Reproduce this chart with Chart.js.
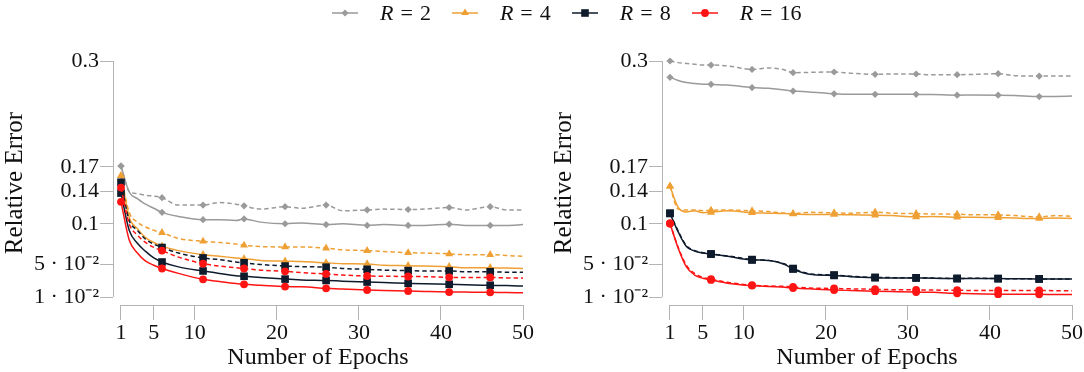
<!DOCTYPE html>
<html>
<head>
<meta charset="utf-8">
<script src="https://cdn.jsdelivr.net/npm/chart.js@4.4.1/dist/chart.umd.min.js"></script>
<style>
  body { margin: 0; background: #fff; }
  #wrap { position: relative; width: 1084px; height: 372px; overflow: hidden; font-family: "Liberation Serif", serif; }
  .panel { position: absolute; top: 0; width: 535px; height: 372px; }
  #legend { position: absolute; left: 332px; top: 0; height: 26px; display: flex; align-items: center; font-size: 22px; color: #111; white-space: nowrap; }
  #legend svg { display: block; }
  #legend .txt { margin-left: 22px; margin-right: 21px; }
  #legend .eq { margin: 0 7px; }
</style>
</head>
<body>
<div id="wrap">
  <div class="panel" style="left:0"><canvas id="leftChart"></canvas></div>
  <div class="panel" style="left:549px"><canvas id="rightChart"></canvas></div>
  <div id="legend"></div>
</div>
<script>
// epochs where values were read; markers sit on every 5th epoch
var epochs = [1, 2, 3, 4, 5, 6, 8, 11, 13, 15, 16, 18, 21, 23, 26, 28, 31, 33, 36, 38, 41, 43, 46, 48, 50];
var markEpochs = [1, 6, 11, 16, 21, 26, 31, 36, 41, 46];

var rValues = [2, 4, 8, 16];
var colors = ['#9a9a9a', '#efa035', '#0e1b2d', '#ff1414'];
var markers = ['rectRot', 'triangle', 'rect', 'circle'];
var markerSizes = [3.6, 4.6, 5.4, 3.9];

var yTickValues = [0.01, 0.05, 0.1, 0.14, 0.17, 0.3];
var yTickLabels = ['1 \u00b7 10\u207b\u00b2', '5 \u00b7 10\u207b\u00b2', '0.1', '0.14', '0.17', '0.3'];
var xTickValues = [1, 5, 10, 20, 30, 40, 50];

// ---------------------------------------------------------------- left panel
var leftR2 = [0.171, 0.139, 0.131, 0.124, 0.119, 0.114, 0.109, 0.105, 0.105, 0.104, 0.106, 0.102, 0.100, 0.101, 0.099, 0.100, 0.098, 0.099, 0.098, 0.098, 0.0995, 0.098, 0.098, 0.098, 0.099];
var leftR2Dash = [0.171, 0.140, 0.137, 0.135, 0.134, 0.132, 0.123, 0.123, 0.126, 0.124, 0.122, 0.118, 0.121, 0.119, 0.123, 0.116, 0.117, 0.118, 0.1175, 0.118, 0.120, 0.117, 0.121, 0.117, 0.117];
var leftR4 = [0.159, 0.108, 0.094, 0.083, 0.077, 0.0725, 0.067, 0.062, 0.060, 0.058, 0.057, 0.055, 0.054, 0.0535, 0.052, 0.051, 0.0506, 0.049, 0.0485, 0.048, 0.0473, 0.046, 0.046, 0.0455, 0.045];
var leftR4Dash = [0.159, 0.114, 0.102, 0.096, 0.092, 0.089, 0.082, 0.0785, 0.077, 0.075, 0.0736, 0.072, 0.0715, 0.0715, 0.070, 0.068, 0.067, 0.066, 0.0644, 0.064, 0.063, 0.062, 0.062, 0.061, 0.060];
var leftR8 = [0.1377, 0.092, 0.076, 0.066, 0.058, 0.053, 0.047, 0.042, 0.039, 0.036, 0.0355, 0.034, 0.032, 0.031, 0.0303, 0.0295, 0.0284, 0.0278, 0.0268, 0.0262, 0.0256, 0.025, 0.0244, 0.024, 0.0235];
var leftR8Dash = [0.151, 0.104, 0.092, 0.081, 0.075, 0.0708, 0.064, 0.058, 0.056, 0.053, 0.052, 0.050, 0.048, 0.0473, 0.0466, 0.045, 0.044, 0.043, 0.0424, 0.042, 0.042, 0.041, 0.041, 0.0405, 0.0403];
var leftR16 = [0.127, 0.080, 0.064, 0.054, 0.049, 0.045, 0.039, 0.0317, 0.029, 0.0265, 0.0256, 0.0245, 0.0228, 0.0225, 0.0207, 0.0198, 0.0186, 0.018, 0.0174, 0.0168, 0.0161, 0.016, 0.0158, 0.0155, 0.0153];
var leftR16Dash = [0.1445, 0.100, 0.086, 0.077, 0.071, 0.067, 0.059, 0.051, 0.048, 0.046, 0.045, 0.043, 0.0416, 0.040, 0.0383, 0.037, 0.0358, 0.0355, 0.0352, 0.035, 0.0342, 0.034, 0.034, 0.0335, 0.0333];

// ---------------------------------------------------------------- right panel
var rightR2 = [0.280, 0.276, 0.2735, 0.2725, 0.2715, 0.2713, 0.2705, 0.2673, 0.2665, 0.2645, 0.2631, 0.262, 0.2597, 0.259, 0.259, 0.2592, 0.259, 0.2588, 0.258, 0.2583, 0.258, 0.2575, 0.2563, 0.2565, 0.257];
var rightR2Dash = [0.300, 0.298, 0.297, 0.296, 0.295, 0.295, 0.294, 0.2897, 0.2915, 0.289, 0.2856, 0.286, 0.2865, 0.285, 0.2836, 0.284, 0.284, 0.283, 0.2832, 0.2835, 0.2844, 0.282, 0.2815, 0.2815, 0.2815];
var rightR4 = [0.146, 0.120, 0.1145, 0.116, 0.1135, 0.114, 0.116, 0.1135, 0.113, 0.1125, 0.112, 0.1115, 0.1115, 0.111, 0.1105, 0.110, 0.1085, 0.109, 0.108, 0.108, 0.1075, 0.107, 0.1065, 0.107, 0.1064];
var rightR4Dash = [0.146, 0.118, 0.117, 0.117, 0.116, 0.1166, 0.117, 0.1158, 0.115, 0.113, 0.1125, 0.114, 0.1134, 0.113, 0.1142, 0.113, 0.1125, 0.112, 0.1117, 0.111, 0.1109, 0.110, 0.1084, 0.110, 0.109];
var rightR8 = [0.1128, 0.090, 0.072, 0.0665, 0.064, 0.0628, 0.060, 0.0555, 0.055, 0.050, 0.0444, 0.038, 0.0365, 0.035, 0.0338, 0.0335, 0.0335, 0.033, 0.0326, 0.0328, 0.0326, 0.0324, 0.0321, 0.0321, 0.0321];
var rightR8Dash = [0.1128, 0.091, 0.073, 0.067, 0.0645, 0.0628, 0.0605, 0.056, 0.055, 0.0505, 0.045, 0.0385, 0.037, 0.0355, 0.034, 0.0338, 0.0335, 0.0332, 0.0328, 0.033, 0.0326, 0.0325, 0.0323, 0.0322, 0.0322];
var rightR16 = [0.1003, 0.070, 0.047, 0.037, 0.033, 0.031, 0.027, 0.024, 0.0228, 0.022, 0.021, 0.020, 0.0186, 0.018, 0.0172, 0.0167, 0.016, 0.0157, 0.0145, 0.014, 0.0135, 0.0133, 0.0133, 0.013, 0.013];
var rightR16Dash = [0.1003, 0.071, 0.049, 0.039, 0.034, 0.032, 0.028, 0.0245, 0.0235, 0.023, 0.0225, 0.021, 0.0205, 0.020, 0.0195, 0.019, 0.0188, 0.0185, 0.0183, 0.018, 0.018, 0.018, 0.018, 0.0178, 0.0178];

// ----------------------------------------------------------------

var fontFamily = '"Liberation Serif", serif';
var axisColor = '#b4b4b4';

function buildDatasets(solidList, dashList) {
  var sets = [];
  rValues.forEach(function (r, i) {
    [solidList[i], dashList[i]].forEach(function (values, k) {
      sets.push({
        label: 'R = ' + r + (k ? ' (dashed)' : ''),
        data: epochs.map(function (e, j) { return { x: e, y: values[j] }; }),
        borderColor: colors[i],
        backgroundColor: colors[i],
        borderWidth: 1.5,
        borderDash: k ? [4.5, 3] : [],
        pointStyle: markers[i],
        pointRadius: function (ctx) {
          return ctx.raw && markEpochs.indexOf(ctx.raw.x) >= 0 ? markerSizes[i] : 0;
        },
        pointBorderWidth: 0,
        cubicInterpolationMode: 'monotone',
        clip: false,
        order: rValues.length - i
      });
    });
  });
  return sets;
}

// axis lines drawn apart from each other, like the separated pgfplots axes
var axisLines = {
  id: 'axisLines',
  afterDraw: function (chart) {
    var ctx = chart.ctx, x = chart.scales.x, y = chart.scales.y;
    ctx.save();
    ctx.strokeStyle = axisColor;
    ctx.lineWidth = 1;
    ctx.beginPath();
    ctx.moveTo(chart.chartArea.left + 0.5, y.getPixelForValue(0.3));
    ctx.lineTo(chart.chartArea.left + 0.5, y.getPixelForValue(0.01));
    ctx.moveTo(x.getPixelForValue(1), chart.chartArea.bottom + 0.5);
    ctx.lineTo(x.getPixelForValue(50), chart.chartArea.bottom + 0.5);
    ctx.stroke();
    ctx.restore();
  }
};

function makeChart(id, solidList, dashList) {
  return new Chart(document.getElementById(id), {
    type: 'line',
    data: { datasets: buildDatasets(solidList, dashList) },
    plugins: [axisLines],
    options: {
      responsive: true,
      maintainAspectRatio: false,
      animation: false,
      layout: { padding: { top: 61, right: 12, left: 0, bottom: 0 } },
      plugins: { legend: { display: false }, tooltip: { enabled: false } },
      scales: {
        x: {
          type: 'linear',
          min: 0.025,
          max: 50,
          afterBuildTicks: function (s) { s.ticks = xTickValues.map(function (v) { return { value: v }; }); },
          afterFit: function (s) { s.height = 67; },
          border: { display: false },
          grid: { drawOnChartArea: false, drawTicks: true, tickLength: 15, color: axisColor },
          ticks: { autoSkip: false, maxRotation: 0, padding: 0, color: '#111', font: { family: fontFamily, size: 22 } },
          title: { display: true, text: 'Number of Epochs', color: '#111', padding: 0, font: { family: fontFamily, size: 24 } }
        },
        y: {
          type: 'linear',
          min: 0.00017,
          max: 0.3,
          afterBuildTicks: function (s) { s.ticks = yTickValues.map(function (v) { return { value: v }; }); },
          afterFit: function (s) { s.width = 113; },
          border: { display: false },
          grid: { drawOnChartArea: false, drawTicks: true, tickLength: 13, color: axisColor },
          ticks: {
            padding: 1,
            color: '#111',
            font: { family: fontFamily, size: 22 },
            callback: function (value) { return yTickLabels[yTickValues.indexOf(value)]; }
          },
          title: { display: true, text: 'Relative Error', color: '#111', padding: 0, font: { family: fontFamily, size: 25 } }
        }
      }
    }
  });
}

// legend built from the same arrays
function markerSvg(i) {
  var c = colors[i], m;
  if (markers[i] === 'rectRot') m = '<polygon points="13,2.5 16.5,6 13,9.5 9.5,6" fill="' + c + '"/>';
  else if (markers[i] === 'triangle') m = '<polygon points="13,1.5 17,8 9,8" fill="' + c + '"/>';
  else if (markers[i] === 'rect') m = '<rect x="9.2" y="2.2" width="7.6" height="7.6" fill="' + c + '"/>';
  else m = '<circle cx="13" cy="6" r="3.9" fill="' + c + '"/>';
  return '<svg width="26" height="12"><line x1="0" y1="6" x2="26" y2="6" stroke="' + c + '" stroke-width="1.5"/>' + m + '</svg>';
}
var legendHtml = '';
rValues.forEach(function (r, i) {
  legendHtml += markerSvg(i) + '<span class="txt"><i>R</i><span class="eq">=</span>' + r + '</span>';
});
document.getElementById('legend').innerHTML = legendHtml;

var leftChart = makeChart('leftChart', [leftR2, leftR4, leftR8, leftR16], [leftR2Dash, leftR4Dash, leftR8Dash, leftR16Dash]);
var rightChart = makeChart('rightChart', [rightR2, rightR4, rightR8, rightR16], [rightR2Dash, rightR4Dash, rightR8Dash, rightR16Dash]);
</script>
</body>
</html>
